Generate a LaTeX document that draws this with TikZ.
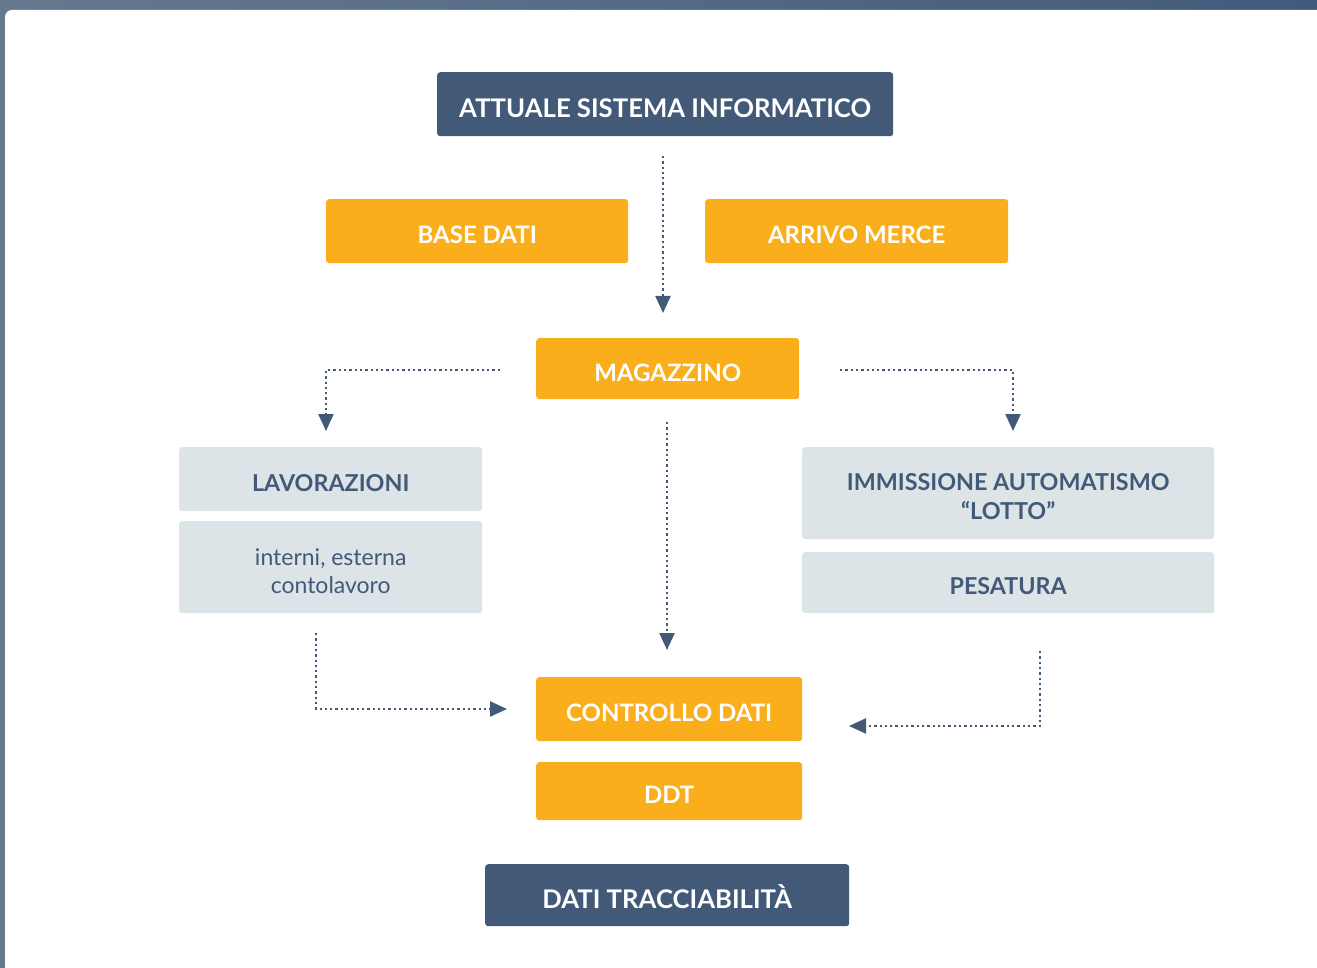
\documentclass[tikz,border=0pt]{standalone}
\usepackage{fontspec}
\setmainfont{Lato}
\usetikzlibrary{arrows.meta}
\definecolor{navy}{HTML}{425A78}
\definecolor{orng}{HTML}{FBAE1C}
\definecolor{lgray}{HTML}{DCE4E8}
\definecolor{frameA}{HTML}{66798F}
\definecolor{frameB}{HTML}{425A7A}
\newcommand\upstrut{\rule{0pt}{\dimexpr 0.72em+8pt\relax}}
\tikzset{
  base/.style={rounded corners=3pt, inner sep=0pt, align=center, anchor=north west},
  navybox/.style={base, fill=navy, text=white, font=\fontsize{25.7}{29}\selectfont\bfseries},
  orbox/.style={base, fill=orng, text=white, font=\fontsize{24}{28}\selectfont\bfseries},
  graybox/.style={base, fill=lgray, text=navy, font=\fontsize{23.3}{29}\selectfont\bfseries},
  graytxt/.style={base, fill=lgray, text=navy, font=\fontsize{23}{28}\selectfont},
  arr/.style={draw=navy, line width=2.3pt, dash pattern=on 2.3pt off 3pt, -{Triangle[width=15pt,length=17pt]}}
}
\begin{document}
\begin{tikzpicture}[x=1pt,y=-1pt]
\useasboundingbox (0,0) rectangle (1317,968);
\shade[left color=frameA, right color=frameB] (0,0) rectangle (1317,968);
\fill[white, rounded corners=7pt] (5,10) rectangle (1340,990);
% nodes
\node[navybox, minimum width=456pt, minimum height=64pt] (attuale) at (437,72) {\upstrut ATTUALE SISTEMA INFORMATICO};
\node[orbox, minimum width=302pt, minimum height=64pt] (base) at (326,199) {\upstrut BASE DATI};
\node[orbox, minimum width=303pt, minimum height=64pt] (arrivo) at (705,199) {\upstrut ARRIVO MERCE};
\node[orbox, minimum width=263pt, minimum height=61pt] (magazzino) at (536,338) {\upstrut MAGAZZINO};
\node[graybox, minimum width=303pt, minimum height=64pt] (lavorazioni) at (179,447) {\upstrut LAVORAZIONI};
\node[graytxt, minimum width=303pt, minimum height=92pt] (interni) at (179,521) {\upstrut interni, esterna\\contolavoro};
\node[graybox, minimum width=412pt, minimum height=92pt] (immissione) at (802,447) {\upstrut IMMISSIONE AUTOMATISMO\\“LOTTO”};
\node[graybox, minimum width=412pt, minimum height=61pt] (pesatura) at (802,552) {\upstrut PESATURA};
\node[orbox, minimum width=266pt, minimum height=64pt] (controllo) at (536,677) {\upstrut CONTROLLO DATI};
\node[orbox, minimum width=266pt, minimum height=58pt] (ddt) at (536,762) {\upstrut DDT};
\node[navybox, minimum width=364pt, minimum height=62pt] (tracc) at (485,864) {\upstrut DATI TRACCIABILITÀ};
% connectors
\coordinate (a1) at (663,156);
\coordinate (a2) at (663,313);
\draw[arr] (a1) -- (a2);
\coordinate (l1) at (500,370);
\coordinate (l2) at (326,431);
\draw[arr] (l1) -| (l2);
\coordinate (r1) at (840,370);
\coordinate (r2) at (1013,431);
\draw[arr] (r1) -| (r2);
\coordinate (c1) at (667,422);
\coordinate (c2) at (667,650);
\draw[arr] (c1) -- (c2);
\coordinate (bl1) at (316,633);
\coordinate (bl2) at (507,709);
\draw[arr] (bl1) |- (bl2);
\coordinate (br1) at (1040,651);
\coordinate (br2) at (849,726);
\draw[arr] (br1) |- (br2);
\end{tikzpicture}
\end{document}
